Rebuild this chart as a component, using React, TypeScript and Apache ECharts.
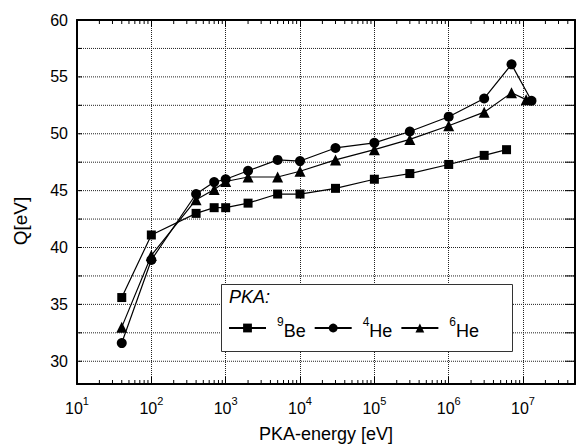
import React, { useEffect, useRef } from "react";
import * as echarts from "echarts";

// ---- data (PKA energy in eV, Q in eV) ----
const be9Energy = [40, 100, 400, 700, 1000, 2000, 5000, 1e4, 3e4, 1e5, 3e5, 1e6, 3e6, 6e6];
const be9Q = [35.6, 41.1, 43.0, 43.5, 43.5, 43.9, 44.7, 44.7, 45.2, 46.0, 46.5, 47.3, 48.1, 48.6];

const he4Energy = [40, 100, 400, 700, 1000, 2000, 5000, 1e4, 3e4, 1e5, 3e5, 1e6, 3e6, 7e6, 1.3e7];
const he4Q = [31.6, 38.9, 44.7, 45.75, 46.0, 46.75, 47.7, 47.6, 48.75, 49.2, 50.2, 51.5, 53.1, 56.1, 52.9];

const he6Energy = [40, 100, 400, 700, 1000, 2000, 5000, 1e4, 3e4, 1e5, 3e5, 1e6, 3e6, 7e6, 1.1e7];
const he6Q = [33.0, 39.3, 44.2, 45.1, 45.8, 46.2, 46.2, 46.7, 47.7, 48.6, 49.5, 50.7, 51.9, 53.6, 53.0];

const seriesNames = ["9Be", "4He", "6He"];
const seriesSymbols = ["rect", "circle", "triangle"];
const seriesSymbolSizes = [9, 10, 11];

// axis ranges / ticks
const X_MIN_E = 10;
const X_MAX_E = 5e7;
const Y_MIN = 28;
const Y_MAX = 60;
const yGridValues = [30, 32.5, 35, 37.5, 40, 42.5, 45, 47.5, 50, 52.5, 55, 57.5];
const xDecadeExponents = [1, 2, 3, 4, 5, 6, 7];
const xMinorMultipliers = [2, 3, 4, 5, 6, 7, 8, 9];

const FONT = "'Liberation Sans', Arial, Helvetica, sans-serif";

export default function App() {
  const ref = useRef<HTMLDivElement>(null);

  useEffect(() => {
    if (!ref.current) return;
    const chart = echarts.init(ref.current, null, { renderer: "svg" });

    const xMin = Math.log10(X_MIN_E);
    const xMax = Math.log10(X_MAX_E);

    const toPts = (es: number[], qs: number[]) => es.map((e, i) => [Math.log10(e), qs[i]]);
    const seriesData = [toPts(be9Energy, be9Q), toPts(he4Energy, he4Q), toPts(he6Energy, he6Q)];

    // minor tick positions (log10 space)
    const minorTicks: number[][] = [];
    xDecadeExponents.forEach((d) => {
      xMinorMultipliers.forEach((k) => {
        const v = k * Math.pow(10, d);
        if (v < X_MAX_E) minorTicks.push([Math.log10(v), Y_MIN]);
      });
    });

    const lineSeries = seriesNames.map((name, i) => ({
      name,
      type: "line",
      data: seriesData[i],
      symbol: seriesSymbols[i],
      symbolSize: seriesSymbolSizes[i],
      showSymbol: true,
      color: "#000",
      itemStyle: { color: "#000" },
      lineStyle: { color: "#000", width: 1.2 },
      z: 3,
      silent: true,
    }));

    const option: any = {
      animation: false,
      textStyle: { fontFamily: FONT },
      grid: { left: 77, top: 20, right: -3, bottom: 57, containLabel: false },
      xAxis: [
        {
          type: "value",
          position: "bottom",
          min: xMin,
          max: xMax,
          interval: 1,
          axisLine: { show: true, lineStyle: { color: "#000", width: 2 } },
          axisTick: { show: true, inside: true, length: 7, lineStyle: { color: "#000", width: 1 } },
          splitLine: { show: true, lineStyle: { color: "#222", type: [1, 1], width: 1 } },
          axisLabel: {
            margin: 11,
            color: "#000",
            formatter: (v: number) =>
              Math.abs(v - Math.round(v)) < 1e-9 ? `{b|10}{s|${Math.round(v)}}` : "",
            rich: {
              b: { fontSize: 16, fontFamily: FONT, color: "#000", padding: [5, 0, 0, 0] },
              s: { fontSize: 11, fontFamily: FONT, color: "#000", verticalAlign: "top" },
            },
          },
          name: "PKA-energy [eV]",
          nameLocation: "middle",
          nameGap: 41,
          nameTextStyle: { fontSize: 18, fontFamily: FONT, color: "#000" },
        },
        {
          type: "value",
          position: "top",
          min: xMin,
          max: xMax,
          interval: 1,
          axisLine: { show: true, lineStyle: { color: "#000", width: 2 } },
          axisTick: { show: true, inside: true, length: 7, lineStyle: { color: "#000", width: 1 } },
          splitLine: { show: false },
          axisLabel: { show: false },
        },
      ],
      yAxis: [
        {
          type: "value",
          min: Y_MIN,
          max: Y_MAX,
          splitNumber: 6,
          axisLine: { show: true, lineStyle: { color: "#000", width: 2 } },
          axisTick: { show: false },
          splitLine: { show: false },
          axisLabel: {
            margin: 9,
            fontSize: 16,
            color: "#000",
            fontFamily: FONT,
            formatter: (v: number) => (v % 5 === 0 ? String(v) : ""),
          },
        },
        {
          type: "value",
          position: "right",
          min: Y_MIN,
          max: Y_MAX,
          splitNumber: 6,
          axisLine: { show: true, lineStyle: { color: "#000", width: 2 } },
          axisTick: { show: false },
          splitLine: { show: false },
          axisLabel: { show: false },
        },
      ],
      legend: {
        data: seriesNames,
        left: 228,
        top: 316,
        padding: 0,
        itemGap: 8,
        itemWidth: 37,
        itemHeight: 11,
        selectedMode: false,
        z: 6,
        textStyle: {
          color: "#000",
          fontFamily: FONT,
          rich: {
            sup: { fontSize: 12, fontFamily: FONT, color: "#000", verticalAlign: "top", padding: [0, 0, 0, 6] },
            main: { fontSize: 18, fontFamily: FONT, color: "#000", padding: [6, 0, 0, 0] },
          },
        },
        formatter: (name: string) => `{sup|${name.charAt(0)}}{main|${name.slice(1)}}`,
      },
      graphic: [
        {
          type: "rect",
          z: 5,
          shape: { x: 221.5, y: 284.5, width: 291, height: 67 },
          style: { fill: "#fff", stroke: "#333", lineWidth: 1 },
        },
        {
          type: "text",
          z: 6,
          x: 229,
          y: 297,
          style: {
            text: "PKA:",
            fontSize: 18,
            fontStyle: "italic",
            fontFamily: FONT,
            fill: "#000",
            verticalAlign: "middle",
            align: "left",
          },
        },
        {
          type: "text",
          z: 6,
          x: 20,
          y: 221,
          rotation: Math.PI / 2,
          style: {
            text: "Q[eV]",
            fontSize: 19,
            fontFamily: FONT,
            fill: "#000",
            verticalAlign: "middle",
            align: "center",
          },
        },
      ],
      series: [
        // horizontal dotted grid lines + left/right inward ticks
        {
          name: "ygrid",
          type: "custom",
          silent: true,
          clip: false,
          z: 1,
          data: yGridValues.map((v) => [xMin, v]),
          renderItem: (_p: any, api: any) => {
            const v = api.value(1);
            const a = api.coord([xMin, v]);
            const b = api.coord([xMax, v]);
            return {
              type: "group",
              children: [
                {
                  type: "line",
                  shape: { x1: a[0], y1: a[1], x2: b[0], y2: b[1] },
                  style: { stroke: "#222", lineWidth: 1, lineDash: [1, 1] },
                },
                {
                  type: "line",
                  shape: { x1: a[0], y1: a[1], x2: a[0] + 5, y2: a[1] },
                  style: { stroke: "#000", lineWidth: 1 },
                },
                {
                  type: "line",
                  shape: { x1: b[0], y1: b[1], x2: b[0] - 10, y2: b[1] },
                  style: { stroke: "#000", lineWidth: 1 },
                },
              ],
            };
          },
        },
        // minor log ticks on bottom and top axes
        {
          name: "xminor",
          type: "custom",
          silent: true,
          clip: false,
          z: 1,
          data: minorTicks,
          renderItem: (_p: any, api: any) => {
            const x = api.value(0);
            const bot = api.coord([x, Y_MIN]);
            const top = api.coord([x, Y_MAX]);
            return {
              type: "group",
              children: [
                {
                  type: "line",
                  shape: { x1: bot[0], y1: bot[1], x2: bot[0], y2: bot[1] - 4 },
                  style: { stroke: "#000", lineWidth: 1 },
                },
                {
                  type: "line",
                  shape: { x1: top[0], y1: top[1], x2: top[0], y2: top[1] + 4 },
                  style: { stroke: "#000", lineWidth: 1 },
                },
              ],
            };
          },
        },
        ...lineSeries,
      ],
    };

    chart.setOption(option);
    return () => chart.dispose();
  }, []);

  return (
    <div
      ref={ref}
      style={{ position: "absolute", left: 0, top: 0, width: 578, height: 448, background: "#fff" }}
    />
  );
}
